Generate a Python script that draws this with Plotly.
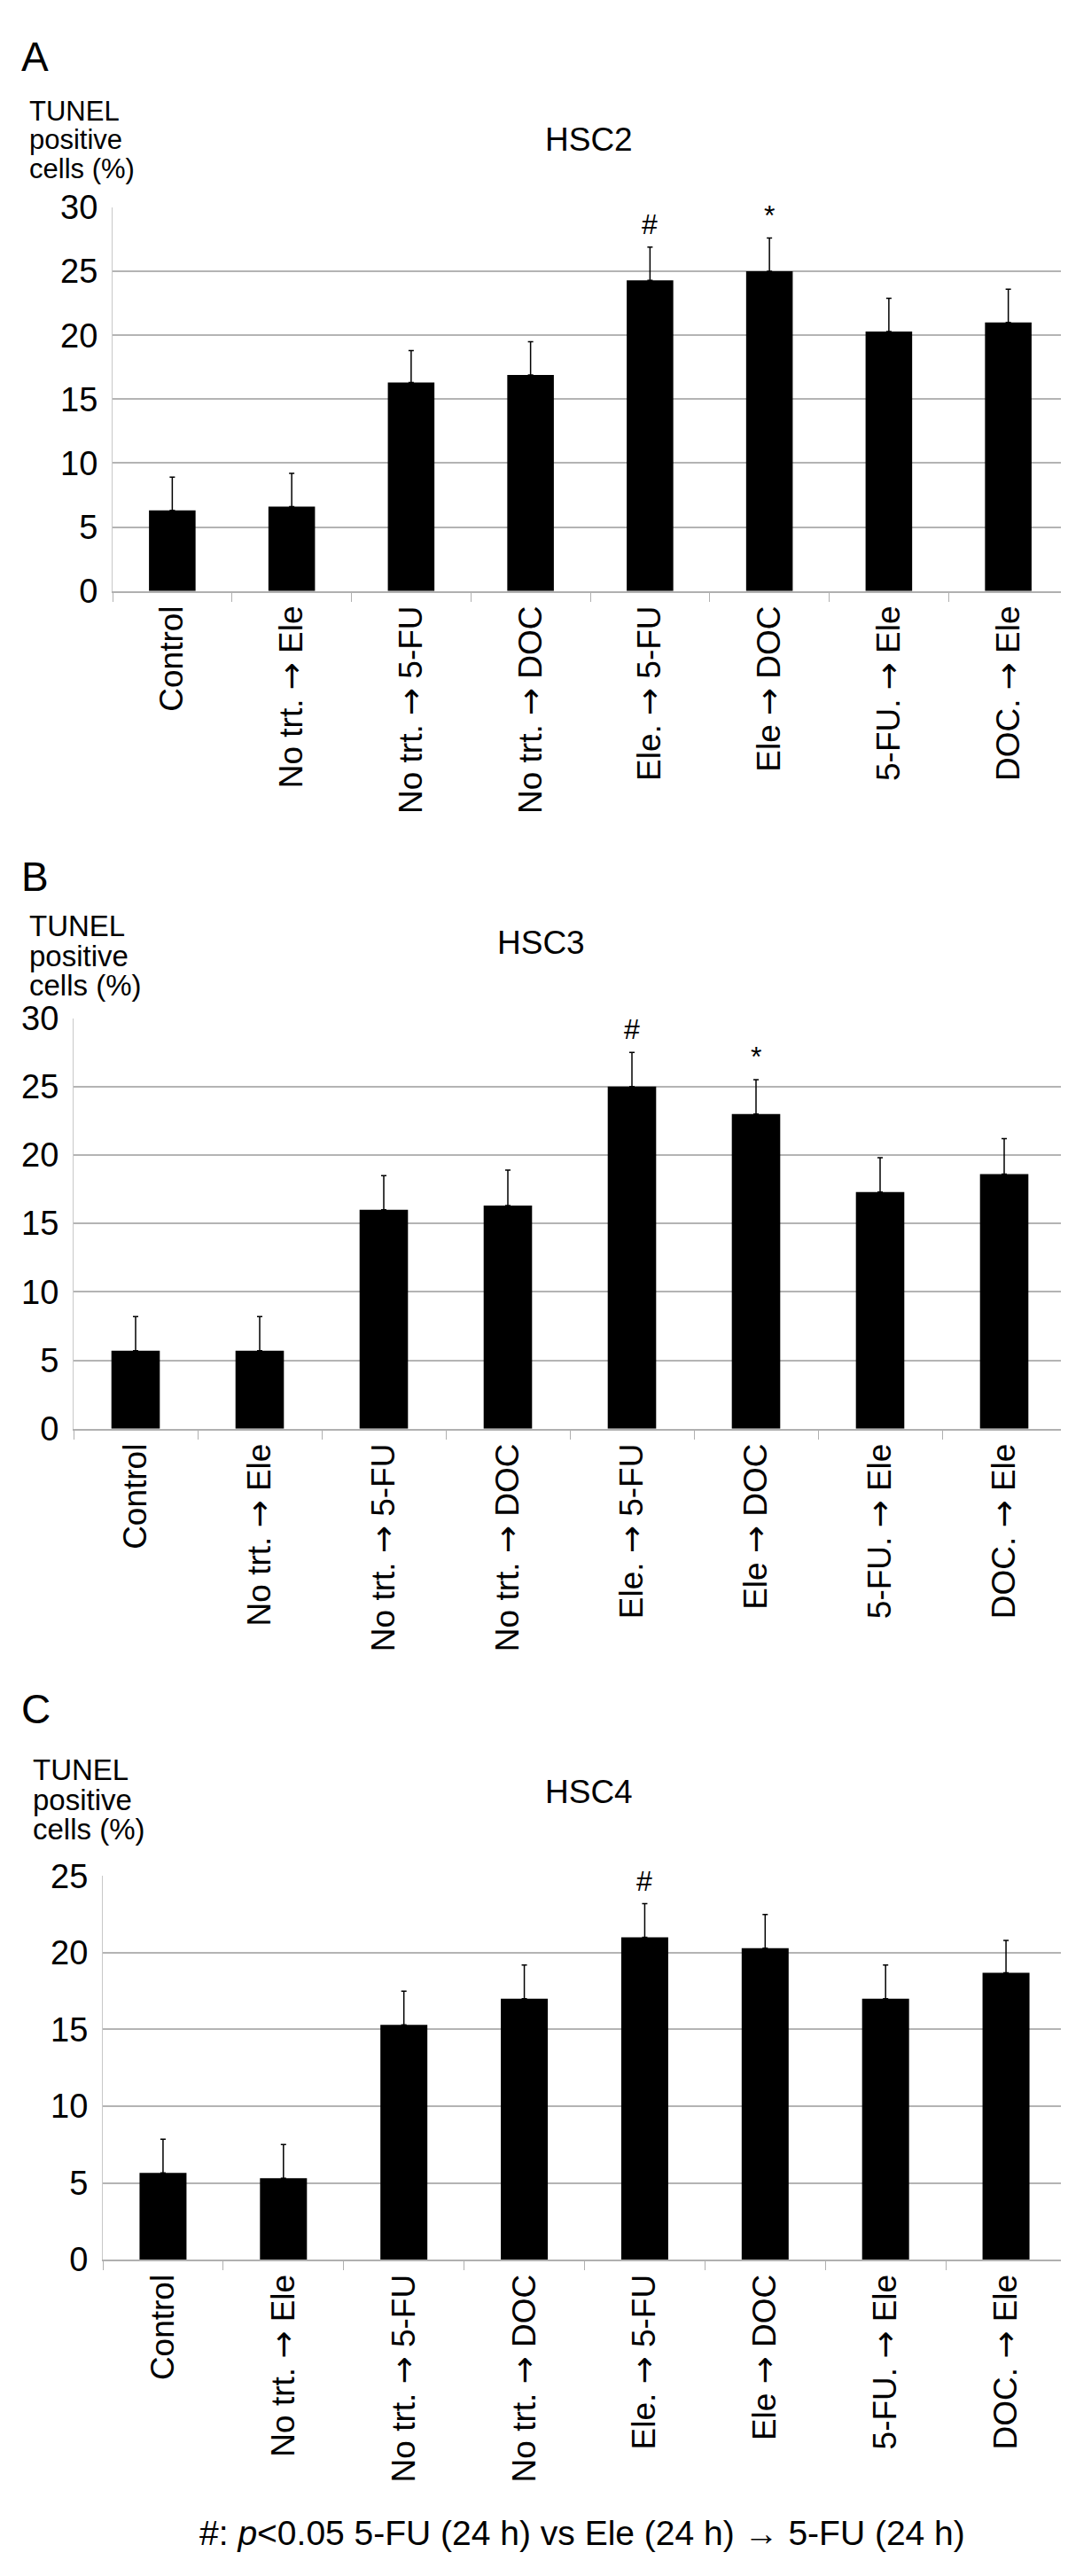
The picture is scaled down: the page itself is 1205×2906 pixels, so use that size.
import plotly.graph_objects as go

W, H = 1205, 2906

categories = ["Control", "No trt. → Ele", "No trt. → 5-FU", "No trt. → DOC",
              "Ele. → 5-FU", "Ele → DOC", "5-FU. → Ele", "DOC. → Ele"]

# HSC2
hsc2_mean = [6.3, 6.6, 16.3, 16.9, 24.3, 25.0, 20.3, 21.0]
hsc2_sd = [2.6, 2.6, 2.5, 2.6, 2.6, 2.6, 2.6, 2.6]
# HSC3
hsc3_mean = [5.7, 5.7, 16.0, 16.3, 25.0, 23.0, 17.3, 18.6]
hsc3_sd = [2.5, 2.5, 2.5, 2.6, 2.5, 2.5, 2.5, 2.6]
# HSC4
hsc4_mean = [5.65, 5.3, 15.3, 17.0, 21.0, 20.3, 17.0, 18.7]
hsc4_sd = [2.2, 2.2, 2.2, 2.2, 2.2, 2.2, 2.2, 2.1]

hsc2_marks = {4: "#", 5: "*"}
hsc3_marks = {4: "#", 5: "*"}
hsc4_marks = {4: "#"}

FONT = "Liberation Sans, Arial, Helvetica"
ARROW = '<span style="font-family:DejaVu Sans">→</span>'

# tick labels with a wider arrow glyph
tick_text = [c.replace("→", ARROW) for c in categories]


def py(y):
    # pixel row -> paper fraction
    return 1 - y / H


def px(x):
    return x / W


panels = [
    dict(name="HSC2", letter="A", mean=hsc2_mean, sd=hsc2_sd, marks=hsc2_marks,
         x0=119, x1=1197, ytop=208, ybot=647, ymax=30,
         letter_y=36, title_x=656, title_y=130, lab_x=23, lab_y=[78, 111, 144], lab_size=31),
    dict(name="HSC3", letter="B", mean=hsc3_mean, sd=hsc3_sd, marks=hsc3_marks,
         x0=75, x1=1195, ytop=1136, ybot=1606, ymax=30,
         letter_y=974, title_x=602, title_y=1050, lab_x=23, lab_y=[1010, 1044, 1078], lab_size=33),
    dict(name="HSC4", letter="C", mean=hsc4_mean, sd=hsc4_sd, marks=hsc4_marks,
         x0=108, x1=1195, ytop=2118, ybot=2557, ymax=25,
         letter_y=1927, title_x=656, title_y=2022, lab_x=27, lab_y=[1976, 2010, 2044], lab_size=33),
]

fig = go.Figure()
annotations = []

for i, p in enumerate(panels):
    n = "" if i == 0 else str(i + 1)
    xa, ya = "x" + n, "y" + n
    fig.add_trace(go.Bar(
        x=categories, y=p["mean"], xaxis=xa, yaxis=ya,
        marker=dict(color="black", line=dict(width=0)),
        error_y=dict(type="data", symmetric=False, array=p["sd"],
                     arrayminus=[0] * len(p["sd"]),
                     color="black", thickness=1.5, width=3),
        showlegend=False,
    ))
    fig.update_layout(**{
        "xaxis" + n: dict(
            domain=[px(p["x0"]), px(p["x1"])], anchor=ya,
            type="category", tickangle=-90, tickson="boundaries",
            tickmode="array", tickvals=categories, ticktext=tick_text,
            ticks="outside", ticklen=10, tickcolor="#b0b0b0", tickwidth=1,
            showline=True, linecolor="#b0b0b0", linewidth=2,
            tickfont=dict(family=FONT, size=37, color="black"),
            showgrid=False, fixedrange=True,
        ),
        "yaxis" + n: dict(
            domain=[py(p["ybot"]), py(p["ytop"])], anchor=xa,
            range=[0, p["ymax"]], dtick=5,
            showgrid=True, gridcolor="#b4b4b4", gridwidth=2,
            showline=True, linecolor="#c8c8c8", linewidth=1,
            zeroline=False, ticks="", ticklabelstandoff=8,
            tickfont=dict(family=FONT, size=38, color="black"),
        ),
    })

    for k, sym in p["marks"].items():
        annotations.append(dict(
            x=categories[k], y=p["mean"][k] + p["sd"][k], xref=xa, yref=ya,
            text=sym, showarrow=False, yanchor="bottom", yshift=6,
            font=dict(family=FONT, size=32, color="black"),
        ))

    annotations.append(dict(
        x=px(14), y=py(p["letter_y"]), xref="paper", yref="paper",
        text=p["letter"], showarrow=False, xanchor="left", yanchor="middle",
        font=dict(family=FONT, size=46, color="black"),
    ))
    annotations.append(dict(
        x=px(p["title_x"]), y=py(p["title_y"]), xref="paper", yref="paper",
        text=p["name"], showarrow=False, xanchor="center", yanchor="middle",
        font=dict(family=FONT, size=37, color="black"),
    ))
    for line, yy in zip(["TUNEL", "positive", "cells (%)"], p["lab_y"]):
        annotations.append(dict(
            x=px(p["lab_x"]), y=py(yy), xref="paper", yref="paper",
            text=line, showarrow=False, xanchor="left", yanchor="top",
            font=dict(family=FONT, size=p["lab_size"], color="black"),
        ))

annotations.append(dict(
    x=px(649), y=py(2870), xref="paper", yref="paper",
    text="#: <i>p</i><0.05 5-FU (24 h) vs Ele (24 h) → 5-FU (24 h)",
    showarrow=False, xanchor="center", yanchor="middle",
    font=dict(family=FONT, size=39, color="black"),
))

fig.update_layout(
    width=W, height=H,
    margin=dict(l=0, r=0, t=0, b=0),
    paper_bgcolor="white", plot_bgcolor="white",
    bargap=0.61,
    annotations=annotations,
)

fig.write_html("out.html")
